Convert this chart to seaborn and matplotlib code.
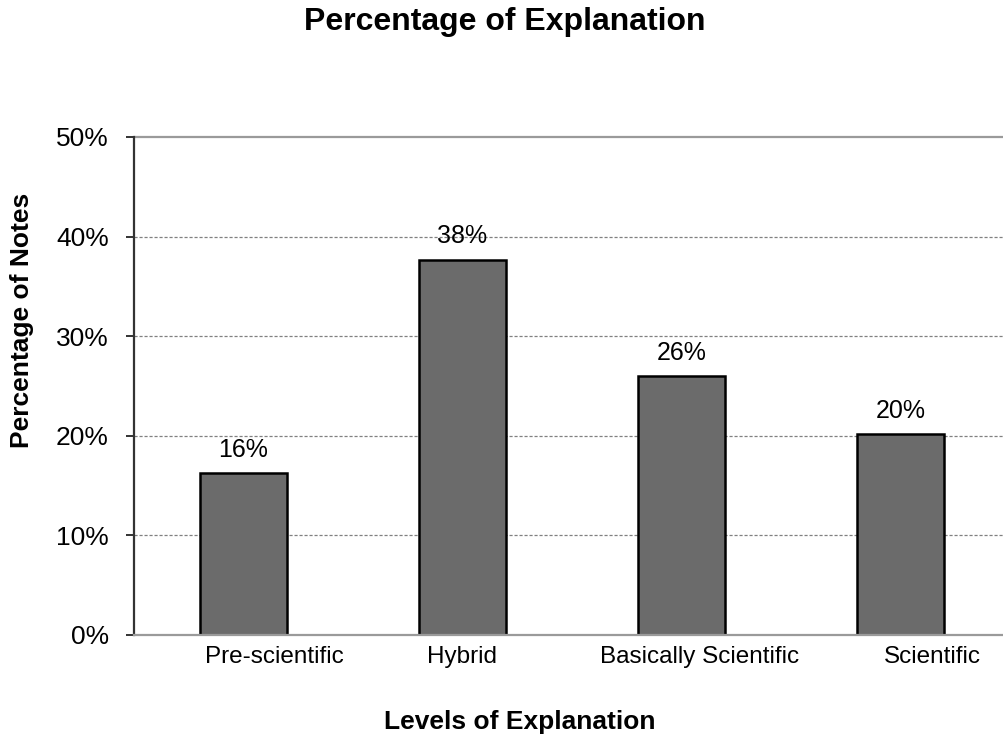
import matplotlib
matplotlib.use("Agg")
import matplotlib.pyplot as plt
import matplotlib.transforms as mtransforms
import seaborn as sns
import pandas as pd

categories = ["Pre-scientific", "Hybrid", "Basically Scientific", "Scientific"]
shares = [0.163, 0.377, 0.260, 0.202]
y_ticks = [0.0, 0.1, 0.2, 0.3, 0.4, 0.5]
y_tick_labels = ["0%", "10%", "20%", "30%", "40%", "50%"]

sns.set_theme(style="white")
plt.rcParams["font.family"] = ["Liberation Sans", "DejaVu Sans"]
plt.rcParams["text.color"] = "black"

df = pd.DataFrame({"level": categories, "share": shares})

fig = plt.figure(figsize=(10.04, 7.45), dpi=100)
W, H = 1004, 745
left, right, top, bottom = 134, 1010, 137, 635
ax = fig.add_axes([left / W, 1 - bottom / H, (right - left) / W, (bottom - top) / H])

sns.barplot(data=df, x="level", y="share", ax=ax, color="#6b6b6b",
            width=0.4, edgecolor="black", linewidth=1.8, saturation=1)

ax.set_ylim(0, 0.5)
ax.set_xlim(-0.5, len(categories) - 0.5)
ax.set_yticks(y_ticks)
ax.set_yticklabels(y_tick_labels, fontsize=19, color="black")

# dashed gridlines inside, solid line at the top
for v in y_ticks[1:-1]:
    ax.axhline(v, color="#808080", linestyle=(0, (2.5, 1.5)), linewidth=0.9, zorder=0)
ax.axhline(0.5, color="#9a9a9a", linewidth=1.6, zorder=0, clip_on=False)

for s in ["top", "right"]:
    ax.spines[s].set_visible(False)
ax.spines["left"].set_color("#333333")
ax.spines["left"].set_linewidth(1.6)
ax.spines["bottom"].set_color("#9a9a9a")
ax.spines["bottom"].set_linewidth(1.6)

ax.tick_params(axis="y", which="major", left=True, length=6, width=1.4,
               color="#333333", pad=12)
ax.tick_params(axis="x", bottom=False, pad=2)

# category labels, shifted to the right of some bars
offsets_px = [31, 0, 18, 32]
ax.set_xticks(range(len(categories)))
ax.set_xticklabels(categories, fontsize=17.5, color="black")
for lbl, dx in zip(ax.get_xticklabels(), offsets_px):
    lbl.set_transform(lbl.get_transform() +
                      mtransforms.ScaledTranslation(dx / 100, 0, fig.dpi_scale_trans))

# value labels above the bars
for i, v in enumerate(shares):
    ax.annotate(f"{v * 100:.0f}%", xy=(i, v), xytext=(0, 8),
                textcoords="offset points", ha="center", va="bottom",
                fontsize=18, color="black")

ax.set_xlabel("")
ax.set_ylabel("")
fig.text(505 / W, 1 - 22 / H, "Percentage of Explanation", ha="center", va="center",
         fontsize=23, fontweight="bold", color="black")
fig.text(520 / W, 1 - 722 / H, "Levels of Explanation", ha="center", va="center",
         fontsize=19, fontweight="bold", color="black")
fig.text(22 / W, 1 - 320 / H, "Percentage of Notes", ha="center", va="center",
         rotation=90, fontsize=19, fontweight="bold", color="black")

fig.savefig("out.png", dpi=100, facecolor="white")
